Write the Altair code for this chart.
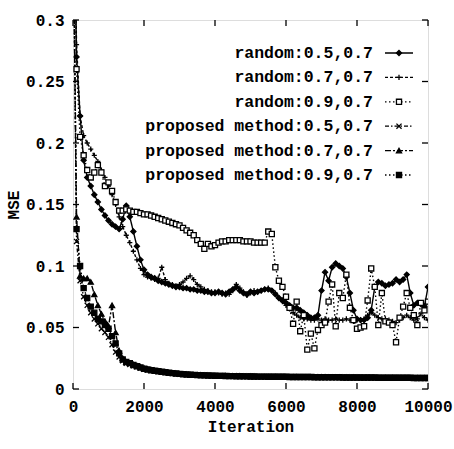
import altair as alt
import pandas as pd

ITER = list(range(0, 10001, 100))
SERIES = ["random:0.5,0.7", "random:0.7,0.7", "random:0.9,0.7",
          "proposed method:0.5,0.7", "proposed method:0.7,0.7", "proposed method:0.9,0.7"]

R5 = [0.45, 0.27, 0.222, 0.186, 0.172, 0.165, 0.158, 0.152, 0.146, 0.141,
      0.137, 0.134, 0.132, 0.130, 0.138, 0.149, 0.140, 0.128, 0.116, 0.105,
      0.097, 0.093, 0.091, 0.090, 0.088, 0.087, 0.086, 0.085, 0.084, 0.083,
      0.083, 0.082, 0.082, 0.081, 0.081, 0.080, 0.080, 0.079, 0.079, 0.078,
      0.078, 0.079, 0.078, 0.077, 0.079, 0.081, 0.083, 0.080, 0.078, 0.077,
      0.079, 0.078, 0.079, 0.080, 0.081, 0.081, 0.080, 0.077, 0.074, 0.072,
      0.070, 0.068, 0.066, 0.066, 0.064, 0.062, 0.060, 0.058, 0.058, 0.060,
      0.080, 0.095, 0.088, 0.099, 0.102, 0.100, 0.098, 0.091, 0.078, 0.064,
      0.057, 0.056, 0.056, 0.058, 0.064, 0.083, 0.087, 0.086, 0.084, 0.085,
      0.086, 0.089, 0.087, 0.089, 0.093, 0.078, 0.068, 0.070, 0.069, 0.067,
      0.083]
R7 = [0.45, 0.28, 0.222, 0.206, 0.200, 0.195, 0.190, 0.185, 0.178, 0.172,
      0.165, 0.158, 0.150, 0.140, 0.132, 0.125, 0.119, 0.112, 0.105, 0.098,
      0.093, 0.091, 0.090, 0.089, 0.090, 0.099, 0.089, 0.086, 0.085, 0.084,
      0.085, 0.087, 0.090, 0.092, 0.089, 0.085, 0.083, 0.081, 0.080, 0.079,
      0.079, 0.078, 0.077, 0.078, 0.077, 0.080, 0.085, 0.082, 0.079, 0.076,
      0.078, 0.080, 0.079, 0.080, 0.081, 0.082, 0.080, 0.078, 0.074, 0.071,
      0.068, 0.065, 0.062, 0.060, 0.058, 0.057, 0.057, 0.056, 0.056, 0.057,
      0.056, 0.057, 0.056, 0.056, 0.057, 0.056, 0.056, 0.057, 0.056, 0.055,
      0.056, 0.056, 0.057, 0.060, 0.062, 0.060, 0.058, 0.057, 0.057, 0.056,
      0.055, 0.054, 0.056, 0.058, 0.060, 0.058, 0.056, 0.057, 0.061, 0.058,
      0.056]
R9 = [0.45, 0.26, 0.205, 0.190, 0.178, 0.172, 0.176, 0.182, 0.176, 0.165,
      0.168, 0.161, 0.152, 0.145, 0.145, 0.146, 0.145, 0.144, 0.144, 0.143,
      0.142, 0.142, 0.141, 0.140, 0.139, 0.138, 0.137, 0.136, 0.135, 0.134,
      0.133, 0.131, 0.129, 0.127, 0.125, 0.121, 0.118, 0.114, 0.118, 0.116,
      0.117, 0.119, 0.120, 0.120, 0.121, 0.121, 0.121, 0.121, 0.120, 0.120,
      0.120, 0.119, 0.119, 0.119, 0.119, 0.128, 0.126, 0.099, 0.088, 0.083,
      0.075, 0.066, 0.053, 0.071, 0.047, 0.060, 0.032, 0.045, 0.033, 0.048,
      0.052, 0.054, 0.071, 0.085, 0.051, 0.078, 0.074, 0.093, 0.066, 0.056,
      0.049, 0.050, 0.051, 0.072, 0.098, 0.083, 0.052, 0.078, 0.055, 0.054,
      0.052, 0.038, 0.058, 0.067, 0.078, 0.066, 0.060, 0.052, 0.070, 0.064,
      0.071]
P5 = [0.40, 0.120, 0.088, 0.075, 0.068, 0.062, 0.057, 0.053, 0.049, 0.046,
      0.042, 0.036, 0.030, 0.026, 0.023, 0.021, 0.020, 0.019, 0.018, 0.017,
      0.016, 0.0155, 0.015, 0.0146, 0.0142, 0.0138, 0.0134, 0.013, 0.0127, 0.0124,
      0.0121, 0.0119, 0.0117, 0.0115, 0.0113, 0.0112, 0.0111, 0.011, 0.0109, 0.0108,
      0.0107, 0.0106, 0.0105, 0.0105, 0.0104, 0.0103, 0.0103, 0.0102, 0.0102, 0.0101,
      0.0101, 0.01, 0.01, 0.0099, 0.0099, 0.0099, 0.0098, 0.0098, 0.0098, 0.0097,
      0.0097, 0.0097, 0.0096, 0.0096, 0.0096, 0.0095, 0.0095, 0.0095, 0.0095, 0.0094,
      0.0094, 0.0094, 0.0094, 0.0093, 0.0093, 0.0093, 0.0093, 0.0092, 0.0092, 0.0092,
      0.0092, 0.0092, 0.0091, 0.0091, 0.0091, 0.0091, 0.0091, 0.009, 0.009, 0.009,
      0.009, 0.009, 0.009, 0.0089, 0.0089, 0.0089, 0.0089, 0.0089, 0.0088, 0.0088,
      0.0088]
P7 = [0.40, 0.140, 0.092, 0.090, 0.090, 0.087, 0.077, 0.068, 0.061, 0.055,
      0.051, 0.068, 0.046, 0.031, 0.025, 0.022, 0.021, 0.020, 0.019, 0.018,
      0.017, 0.0163, 0.0157, 0.0152, 0.0147, 0.0142, 0.0138, 0.0134, 0.013, 0.0127,
      0.0124, 0.0122, 0.012, 0.0118, 0.0116, 0.0115, 0.0114, 0.0112, 0.0111, 0.011,
      0.0109, 0.0108, 0.0108, 0.0107, 0.0106, 0.0106, 0.0105, 0.0105, 0.0104, 0.0104,
      0.0103, 0.0103, 0.0102, 0.0102, 0.0102, 0.0101, 0.0101, 0.0101, 0.01, 0.01,
      0.01, 0.0099, 0.0099, 0.0099, 0.0098, 0.0098, 0.0098, 0.0098, 0.0097, 0.0097,
      0.0097, 0.0097, 0.0096, 0.0096, 0.0096, 0.0096, 0.0095, 0.0095, 0.0095, 0.0095,
      0.0095, 0.0094, 0.0094, 0.0094, 0.0094, 0.0094, 0.0093, 0.0093, 0.0093, 0.0093,
      0.0093, 0.0093, 0.0092, 0.0092, 0.0092, 0.0092, 0.0092, 0.0092, 0.0091, 0.0091,
      0.0091]
P9 = [0.40, 0.130, 0.100, 0.082, 0.074, 0.067, 0.062, 0.057, 0.055, 0.052,
      0.049, 0.043, 0.037, 0.029, 0.024, 0.022, 0.021, 0.0195, 0.0185, 0.0175,
      0.0165, 0.0159, 0.0153, 0.0148, 0.0144, 0.014, 0.0136, 0.0132, 0.0129, 0.0126,
      0.0123, 0.012, 0.0118, 0.0116, 0.0115, 0.0113, 0.0112, 0.0111, 0.011, 0.0109,
      0.0108, 0.0107, 0.0107, 0.0106, 0.0105, 0.0105, 0.0104, 0.0104, 0.0103, 0.0103,
      0.0102, 0.0102, 0.0101, 0.0101, 0.0101, 0.01, 0.01, 0.01, 0.0099, 0.0099,
      0.0099, 0.0098, 0.0098, 0.0098, 0.0097, 0.0097, 0.0097, 0.0097, 0.0096, 0.0096,
      0.0096, 0.0096, 0.0095, 0.0095, 0.0095, 0.0095, 0.0094, 0.0094, 0.0094, 0.0094,
      0.0094, 0.0093, 0.0093, 0.0093, 0.0093, 0.0093, 0.0092, 0.0092, 0.0092, 0.0092,
      0.0092, 0.0091, 0.0091, 0.0091, 0.0091, 0.0091, 0.009, 0.009, 0.009, 0.009,
      0.009]

XTICKS = [0, 2000, 4000, 6000, 8000, 10000]
YTICKS = [0, 0.05, 0.1, 0.15, 0.2, 0.25, 0.3]

W, H = 355, 369
FONT = "Liberation Mono"

rows = []
for name, vals in zip(SERIES, [R5, R7, R9, P5, P7, P9]):
    for it, v in zip(ITER, vals):
        rows.append({"iter": it, "mse": v, "series": name})
df = pd.DataFrame(rows)
leg = pd.DataFrame({"series": SERIES})
xt = pd.DataFrame({"v": XTICKS})
yt = pd.DataFrame({"v": YTICKS})

xs = alt.Scale(domain=[0, 10000], nice=False, zero=False)
ys = alt.Scale(domain=[0, 0.3], nice=False)
dash = alt.StrokeDash("series:N", legend=None, scale=alt.Scale(
    domain=SERIES,
    range=[[1, 0], [3, 2], [1.5, 2.5], [4, 2, 1.5, 2], [6, 2, 2, 2], [1.5, 2.5]]))
shape = alt.Shape("series:N", legend=None, scale=alt.Scale(
    domain=SERIES,
    range=["diamond", "M-1,0L1,0M0,-1L0,1", "square", "M-1,-1L1,1M1,-1L-1,1",
           "triangle-up", "square"]))
fill = alt.Fill("series:N", legend=None, scale=alt.Scale(
    domain=SERIES, range=["black", "black", "white", "black", "black", "black"]))

xaxis = alt.Axis(values=XTICKS, format="d", ticks=False, domain=False, grid=False, labelFont=FONT,
                 labelFontSize=16, labelFontWeight="bold", labelColor="black", labelPadding=9,
                 title="Iteration", titleFont=FONT, titleFontSize=16, titleFontWeight="bold",
                 titleColor="black", titlePadding=4, labelFlush=False)
yaxis = alt.Axis(values=YTICKS, format="~g", ticks=False, domain=False, grid=False, labelFont=FONT,
                 labelFontSize=16, labelFontWeight="bold", labelColor="black", labelPadding=9,
                 title="MSE", titleFont=FONT, titleFontSize=16, titleFontWeight="bold",
                 titleColor="black", titlePadding=4, labelFlush=False)

lines = alt.Chart(df).mark_line(clip=True, color="black", strokeWidth=1.4).encode(
    x=alt.X("iter:Q", scale=xs, axis=xaxis),
    y=alt.Y("mse:Q", scale=ys, axis=yaxis),
    strokeDash=dash,
    detail="series:N",
)
points = alt.Chart(df).mark_point(clip=True, stroke="black", strokeWidth=1.3, size=26, opacity=1).encode(
    x=alt.X("iter:Q", scale=xs),
    y=alt.Y("mse:Q", scale=ys),
    shape=shape,
    fill=fill,
)
xb = alt.Chart(xt).mark_rule(color="black", strokeWidth=1.3).encode(
    x=alt.X("v:Q", scale=xs), y=alt.value(H), y2=alt.value(H - 6))
xtop = alt.Chart(xt).mark_rule(color="black", strokeWidth=1.3).encode(
    x=alt.X("v:Q", scale=xs), y=alt.value(0), y2=alt.value(6))
yl = alt.Chart(yt).mark_rule(color="black", strokeWidth=1.3).encode(
    y=alt.Y("v:Q", scale=ys), x=alt.value(0), x2=alt.value(6))
yr = alt.Chart(yt).mark_rule(color="black", strokeWidth=1.3).encode(
    y=alt.Y("v:Q", scale=ys), x=alt.value(W - 6), x2=alt.value(W))

main = alt.layer(lines, points, xb, xtop, yl, yr)

ly = alt.Y("series:N", axis=None,
           scale=alt.Scale(type="point", domain=SERIES, range=[33, 155], padding=0))
ltext = alt.Chart(leg).mark_text(align="right", baseline="middle", font=FONT, fontSize=16.5,
                                 fontWeight="bold", color="black").encode(
    x=alt.value(300), y=ly, text="series:N")
lrule = alt.Chart(leg).mark_rule(color="black", strokeWidth=1.3).encode(
    x=alt.value(312), x2=alt.value(340), y=ly, strokeDash=dash)
lpoint = alt.Chart(leg).mark_point(stroke="black", strokeWidth=1.3, size=26, opacity=1).encode(
    x=alt.value(326), y=ly, shape=shape, fill=fill)
legend = alt.layer(lrule, lpoint, ltext)

chart = alt.layer(main, legend).resolve_scale(y="independent").properties(
    width=W, height=H,
    padding={"left": 73, "top": 20, "right": 26, "bottom": 60},
    autosize=alt.AutoSizeParams(type="none"),
).configure_view(stroke="black", strokeWidth=1.5).configure(background="white")

chart.save("out.html", embed_options={"renderer": "svg", "actions": False})
